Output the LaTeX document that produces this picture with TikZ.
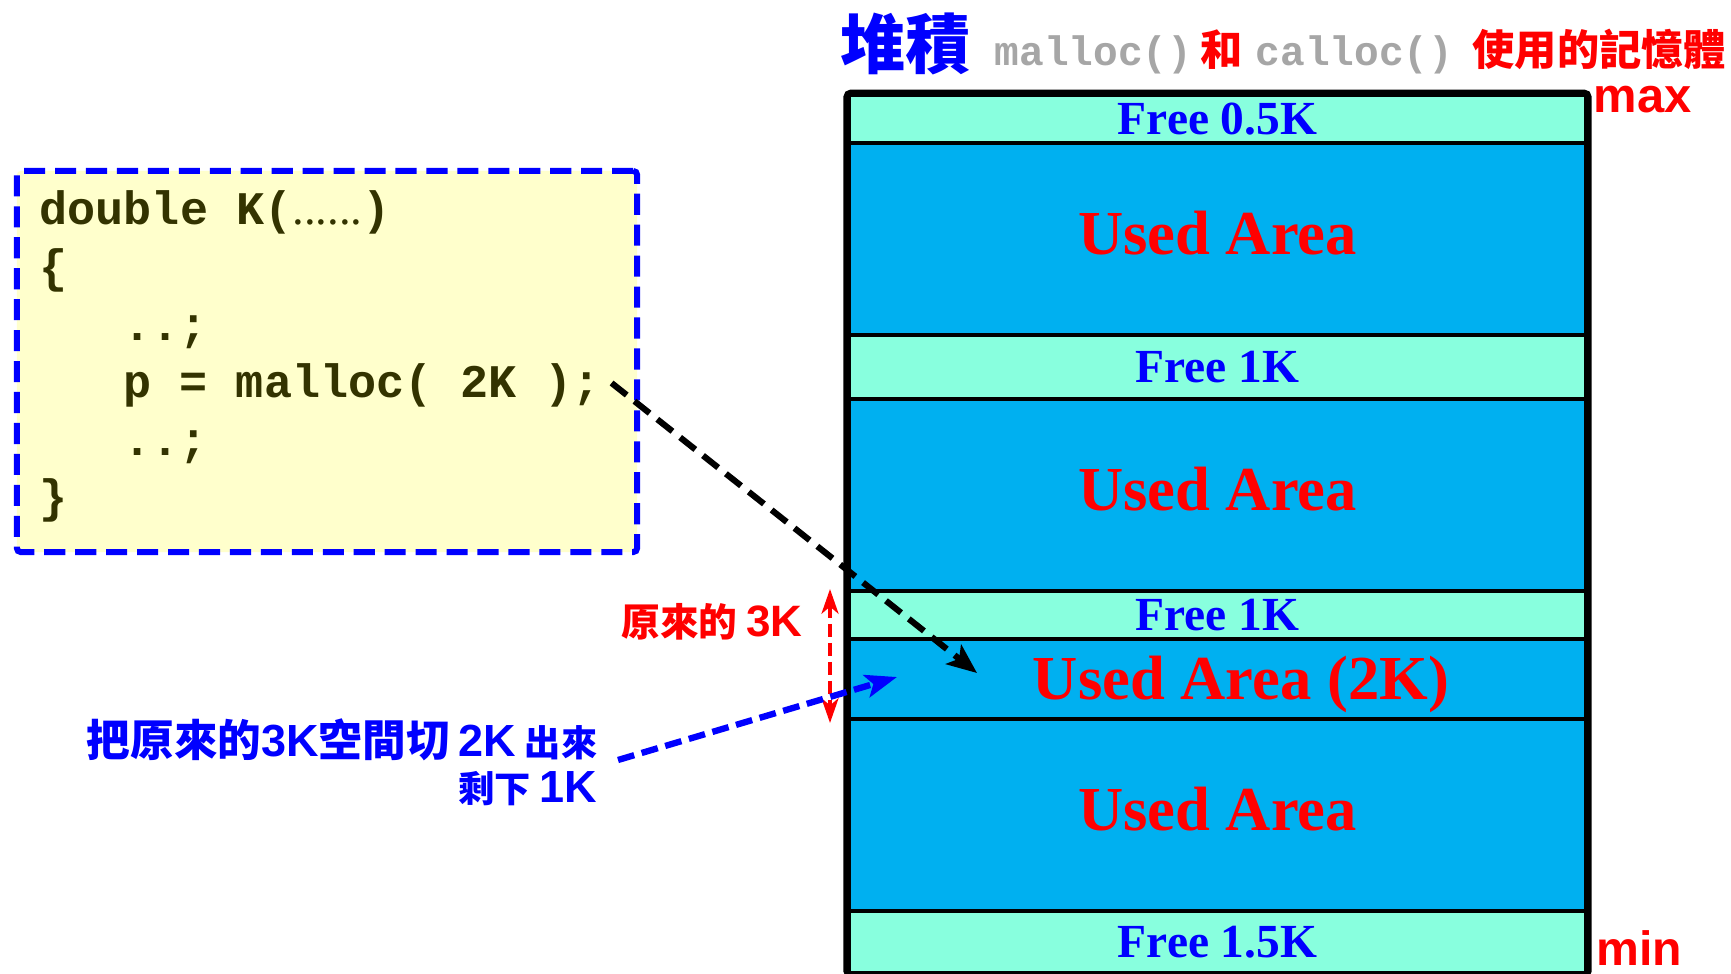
\documentclass[tikz,border=0pt]{standalone}
\usepackage{fontspec}
\setmainfont{Liberation Serif}
\newfontfamily\sansf{Liberation Sans}
\newfontfamily\monof{Liberation Mono}
\newfontfamily\cjkf{Noto Sans CJK TC}
\usetikzlibrary{arrows.meta,calc}

\definecolor{freecol}{RGB}{136,255,222}
\definecolor{usedcol}{RGB}{0,176,240}
\definecolor{codefill}{RGB}{255,255,204}
\definecolor{codetext}{RGB}{51,51,0}
\definecolor{grayt}{RGB}{166,166,166}
\definecolor{pureblue}{RGB}{0,0,255}
\definecolor{purered}{RGB}{255,0,0}

\begin{document}
\begin{tikzpicture}[x=0.01cm,y=-0.01cm,
  band/.style={draw=black, line width=1.14pt, inner sep=0pt,
    minimum width=7.37cm, anchor=north},
  freeband/.style={band, fill=freecol, text=pureblue,
    font=\bfseries\fontsize{13.5}{16}\selectfont},
  usedband/.style={band, fill=usedcol, text=purered, text depth=0.13cm,
    font=\bfseries\fontsize{17.8}{20}\selectfont},
  codebox/.style={draw=pureblue, fill=codefill, line width=1.7pt,
    dash pattern=on 6pt off 2.8pt, rounded corners=0.04cm,
    minimum width=6.2cm, minimum height=3.81cm, inner sep=0pt},
  codeline/.style={anchor=base west, inner sep=0pt, text=codetext,
    font=\monof\bfseries\fontsize{13.3}{16}\selectfont},
  lbl/.style={anchor=base west, inner sep=0pt},
  blackarrow/.style={draw=black, line width=1.75pt,
    dash pattern=on 5.5pt off 2.8pt,
    -{Stealth[length=8.5pt,width=7pt,inset=2pt]}},
  bluearrow/.style={draw=pureblue, line width=1.8pt,
    dash pattern=on 4.8pt off 2.2pt,
    -{Stealth[length=9pt,width=6.5pt,inset=2pt]}},
  redarrow/.style={draw=purered, line width=1.2pt,
    dash pattern=on 3.8pt off 1.6pt,
    {Stealth[length=7pt,width=4.8pt,inset=2pt]}-{Stealth[length=7pt,width=4.8pt,inset=2pt]}}
]
\useasboundingbox (0,0) rectangle (1731,973);
\fill[white] (0,0) rectangle (1731,973);

% ---- heap column, top (max) to bottom (min)
\node[freeband, minimum height=0.48cm] (f1) at (1217.5,93)  {Free 0.5K};
\node[usedband, minimum height=1.92cm] (u1) at (1217.5,141) {Used Area};
\node[freeband, minimum height=0.64cm] (f2) at (1217.5,333) {Free 1K};
\node[usedband, minimum height=1.92cm] (u2) at (1217.5,397) {Used Area};
\node[freeband, minimum height=0.48cm] (f3) at (1217.5,589) {Free 1K};
\node[usedband, minimum height=0.80cm] (u4) at (1217.5,637) {};
\node[usedband, minimum height=1.92cm] (u3) at (1217.5,717) {Used Area};
\node[freeband, minimum height=0.62cm] (f4) at (1217.5,909) {Free 1.5K};
\node[inner sep=0pt, text=purered, font=\bfseries\fontsize{17.8}{20}\selectfont]
  (u4text) at (1241,684) {Used Area (2K)};
\draw[line width=1.9pt, rounded corners=0.04cm] (f1.north west) rectangle (f4.south east);

% ---- heading
\node[lbl, text=pureblue, font=\cjkf\bfseries\fontsize{18.5}{20}\selectfont] (t1) at (840,69) {堆積};
\node[lbl, text=grayt, font=\monof\bfseries\fontsize{11.7}{14}\selectfont] (t2) at (994,66) {malloc()};
\node[lbl, text=purered, font=\cjkf\bfseries\fontsize{12}{14}\selectfont] (t3) at (1200,66) {和};
\node[lbl, text=grayt, font=\monof\bfseries\fontsize{11.7}{14}\selectfont] (t4) at (1255,66) {calloc()};
\node[lbl, text=purered, font=\cjkf\bfseries\fontsize{12}{14}\selectfont] (t5) at (1472,66) {使用的記憶體};

\node[lbl, text=purered, font=\sansf\bfseries\fontsize{13.9}{16}\selectfont] (maxl) at (1593,113) {max};
\node[lbl, text=purered, font=\sansf\bfseries\fontsize{13.7}{16}\selectfont] (minl) at (1596,965) {min};

% ---- source code
\node[codebox] (code) at (327,361.5) {};
\node[codeline] (l1) at (39,225) {double K({\rmfamily\mdseries ......})};
\node[codeline] (l2) at (39,282) {\{};
\node[codeline] (l3) at (123,340) {..;};
\node[codeline] (l4) at (123,397) {p = malloc( 2K );};
\node[codeline] (l5) at (123,455) {..;};
\node[codeline] (l6) at (39,512) {\}};

% ---- notes
\node[inner sep=0pt, text=purered] (old3k) at (712,622)
  {{\cjkf\bfseries\fontsize{11}{12}\selectfont 原來的} {\sansf\bfseries\fontsize{12.5}{12}\selectfont 3K}};
\node[anchor=base east, inner sep=0pt, text=pureblue] (note1) at (598,756)
  {{\cjkf\bfseries\fontsize{12.4}{14}\selectfont 把原來的}{\sansf\bfseries\fontsize{12.8}{14}\selectfont 3K}{\cjkf\bfseries\fontsize{12.4}{14}\selectfont 空間切} {\sansf\bfseries\fontsize{12.8}{14}\selectfont 2K} {\cjkf\bfseries\fontsize{10.3}{14}\selectfont 出來}};
\node[anchor=base east, inner sep=0pt, text=pureblue] (note2) at (598,802)
  {{\cjkf\bfseries\fontsize{10.3}{14}\selectfont 剩下} {\sansf\bfseries\fontsize{12.8}{14}\selectfont 1K}};

% ---- connectors
\coordinate (srcK) at ($(l4.base east)+(10,-14)$);
\coordinate (tipK) at (977,673);
\coordinate (srcB) at (618,760);
\coordinate (tipB) at (897,677);
\coordinate (r3top) at (830,589);
\coordinate (r3bot) at (830,723);
\draw[blackarrow] (srcK) -- (tipK);
\draw[redarrow] (r3top) -- (r3bot);
\draw[bluearrow] (srcB) -- (tipB);
\end{tikzpicture}
\end{document}
